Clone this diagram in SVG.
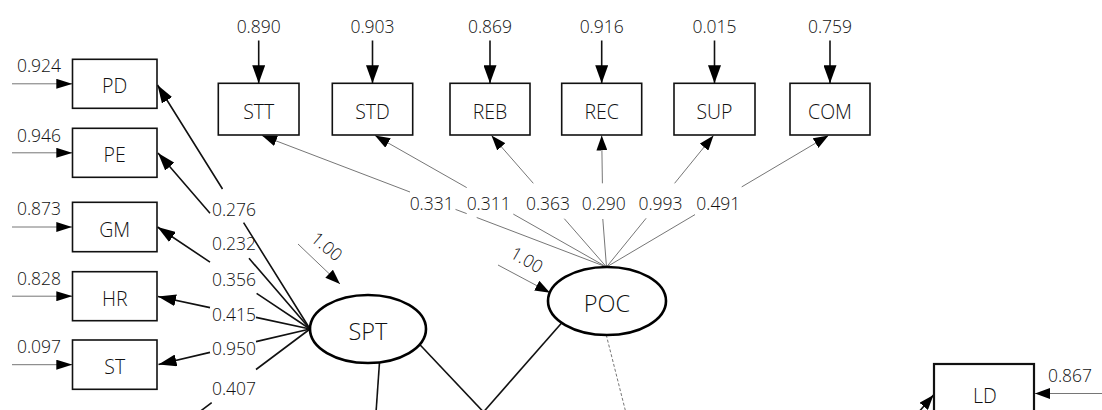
<svg xmlns="http://www.w3.org/2000/svg" width="1102" height="410" viewBox="0 0 1102 410">
<style>
text{font-family:"Open Sans","Noto Sans","Liberation Sans",sans-serif;font-weight:300;fill:#111;text-anchor:middle}
.n{font-size:17.5px}
.b{font-size:19.5px}
.e{font-size:23.5px}
.box{fill:#fff;stroke:#111;stroke-width:1.6}
.ell{fill:#fff;stroke:#000;stroke-width:2.6}
.thin{fill:none;stroke:#666;stroke-width:0.9}
.thick{fill:none;stroke:#111;stroke-width:1.6}
.dash{fill:none;stroke:#666;stroke-width:0.9;stroke-dasharray:3 2}
</style>
<defs>
<marker id="aBig" markerUnits="userSpaceOnUse" markerWidth="18" markerHeight="13" refX="18" refY="6.5" orient="auto"><path d="M0,0 L18,6.5 L0,13 z" fill="#000"/></marker>
<marker id="aLoad" markerUnits="userSpaceOnUse" markerWidth="18" markerHeight="12" refX="18" refY="6" orient="auto"><path d="M0,0 L18,6 L0,12 z" fill="#000"/></marker>
<marker id="aMed" markerUnits="userSpaceOnUse" markerWidth="15" markerHeight="11" refX="15" refY="5.5" orient="auto"><path d="M0,0 L15,5.5 L0,11 z" fill="#000"/></marker>
<marker id="aSm" markerUnits="userSpaceOnUse" markerWidth="16" markerHeight="10" refX="16" refY="5" orient="auto"><path d="M0,0 L16,5 L0,10 z" fill="#000"/></marker>
</defs>

<g id="connectors">
<line class="thin" x1="12" y1="83.8" x2="72.3" y2="83.8" marker-end="url(#aSm)"/>
<line class="thin" x1="12" y1="152.8" x2="72.3" y2="152.8" marker-end="url(#aSm)"/>
<line class="thin" x1="12" y1="227" x2="72.3" y2="227" marker-end="url(#aSm)"/>
<line class="thin" x1="12" y1="296.2" x2="72.3" y2="296.2" marker-end="url(#aSm)"/>
<line class="thin" x1="12" y1="364.7" x2="72.3" y2="364.7" marker-end="url(#aSm)"/>
<path class="thick" d="M310,329 L243.6,222.7 M222.5,189 L157.5,85" marker-end="url(#aLoad)"/>
<path class="thick" d="M310,329 L249,258.3 M210,213.2 L158,153" marker-end="url(#aLoad)"/>
<path class="thick" d="M310,329 L256.6,293.3 M210,262.1 L157.5,227" marker-end="url(#aLoad)"/>
<path class="thick" d="M310,329 L256,317.4 M210,307.6 L158,296.5" marker-end="url(#aLoad)"/>
<path class="thick" d="M310,329 L256,341.6 M210,352.4 L158.5,364.5" marker-end="url(#aLoad)"/>
<path class="thick" d="M310,329 L256,369.5 M211.7,402.7 L190,419"/>
<line class="thick" x1="258.7" y1="40.5" x2="258.7" y2="83.3" marker-end="url(#aBig)"/>
<line class="thick" x1="372.5" y1="40.5" x2="372.5" y2="83.3" marker-end="url(#aBig)"/>
<line class="thick" x1="490" y1="40.5" x2="490" y2="83.3" marker-end="url(#aBig)"/>
<line class="thick" x1="601.7" y1="40.5" x2="601.7" y2="83.3" marker-end="url(#aBig)"/>
<line class="thick" x1="714.5" y1="40.5" x2="714.5" y2="83.3" marker-end="url(#aBig)"/>
<line class="thick" x1="830" y1="40.5" x2="830" y2="83.3" marker-end="url(#aBig)"/>
<path class="thin" d="M606.5,267 L476.7,217.5 M466.7,213.6 L455.5,209.4 M410,192 L262,135.5" marker-end="url(#aMed)"/>
<path class="thin" d="M606.5,267 L513.3,214.1 M466.7,187.6 L375,135.5" marker-end="url(#aMed)"/>
<path class="thin" d="M606.5,267 L564.3,218.7 M533.3,183.3 L491.5,135.5" marker-end="url(#aMed)"/>
<path class="thin" d="M606.5,267 L602.8,219 M602.4,183.3 L601.7,135.5" marker-end="url(#aMed)"/>
<path class="thin" d="M606.5,267 L646.1,218.3 M674.6,183.3 L713.5,135.5" marker-end="url(#aMed)"/>
<path class="thin" d="M606.5,267 L695,214.6 M741.7,186.9 L828.5,135.5" marker-end="url(#aMed)"/>
<line class="thin" x1="298" y1="244" x2="340" y2="284" marker-end="url(#aMed)"/>
<line class="thin" x1="498" y1="265" x2="550" y2="292.7" marker-end="url(#aMed)"/>
<line class="thick" x1="380" y1="355" x2="375.5" y2="420"/>
<line class="thick" x1="415" y1="339.5" x2="483.5" y2="412"/>
<line class="thick" x1="566" y1="318" x2="483.5" y2="412"/>
<line class="dash" x1="605" y1="330" x2="626.5" y2="415"/>
<line class="thin" x1="1102" y1="393.5" x2="1035" y2="393.5" marker-end="url(#aMed)"/>
<line class="thick" x1="905" y1="428" x2="933.5" y2="395" marker-end="url(#aMed)"/>
</g>

<g id="SPT"><ellipse class="ell" cx="368" cy="329" rx="58" ry="34"/><text class="e" x="368" y="340">SPT</text></g>
<g id="POC"><ellipse class="ell" cx="607" cy="301" rx="59" ry="34"/><text class="e" x="607" y="312.3">POC</text></g>

<g id="PD"><rect class="box" x="72.5" y="59.3" width="84.5" height="49"/><text class="b" x="114.7" y="93.3">PD</text></g>
<g id="PE"><rect class="box" x="72.5" y="128.3" width="84.5" height="49"/><text class="b" x="114.7" y="162.3">PE</text></g>
<g id="GM"><rect class="box" x="72.5" y="202.3" width="84.5" height="49.4"/><text class="b" x="114.7" y="236.5">GM</text></g>
<g id="HR"><rect class="box" x="72.5" y="271.7" width="84.5" height="49"/><text class="b" x="114.7" y="305.7">HR</text></g>
<g id="ST"><rect class="box" x="72.5" y="340" width="84.5" height="49.3"/><text class="b" x="114.7" y="374.2">ST</text></g>

<g id="STT"><rect class="box" x="218.3" y="83.3" width="80.7" height="51.7"/><text class="b" x="258.7" y="119">STT</text></g>
<g id="STD"><rect class="box" x="332.3" y="83.3" width="80.4" height="51.7"/><text class="b" x="372.5" y="119">STD</text></g>
<g id="REB"><rect class="box" x="450" y="83.3" width="80" height="51.7"/><text class="b" x="490" y="119">REB</text></g>
<g id="REC"><rect class="box" x="561.7" y="83.3" width="80" height="51.7"/><text class="b" x="601.7" y="119">REC</text></g>
<g id="SUP"><rect class="box" x="674" y="83.3" width="81" height="51.7"/><text class="b" x="714.5" y="119">SUP</text></g>
<g id="COM"><rect class="box" x="790" y="83.3" width="80" height="51.7"/><text class="b" x="830" y="119">COM</text></g>

<g id="LD"><rect class="box" x="934" y="364" width="100" height="52" style="stroke-width:2.2"/><text class="b" x="985" y="403">LD</text></g>

<g id="labels">
<text class="n" x="39" y="71.7">0.924</text>
<text class="n" x="39" y="141.7">0.946</text>
<text class="n" x="39" y="215">0.873</text>
<text class="n" x="39" y="285">0.828</text>
<text class="n" x="39" y="353.3">0.097</text>
<text class="n" x="234" y="215.7">0.276</text>
<text class="n" x="234" y="250">0.232</text>
<text class="n" x="234" y="286">0.356</text>
<text class="n" x="234" y="320.5">0.415</text>
<text class="n" x="234" y="355">0.950</text>
<text class="n" x="234" y="395">0.407</text>
<text class="n" x="258.7" y="33.3">0.890</text>
<text class="n" x="372.5" y="33.3">0.903</text>
<text class="n" x="490" y="33.3">0.869</text>
<text class="n" x="601.7" y="33.3">0.916</text>
<text class="n" x="714.5" y="33.3">0.015</text>
<text class="n" x="830" y="33.3">0.759</text>
<text class="n" x="431.7" y="210">0.331</text>
<text class="n" x="488.7" y="210">0.311</text>
<text class="n" x="548" y="210">0.363</text>
<text class="n" x="603.8" y="210">0.290</text>
<text class="n" x="660.5" y="210">0.993</text>
<text class="n" x="718.3" y="210">0.491</text>
<text class="n" x="1070" y="381.7">0.867</text>
<text class="n" transform="translate(326.7,246.7) rotate(40)" x="0" y="6">1.00</text>
<text class="n" transform="translate(526.7,260) rotate(30)" x="0" y="6">1.00</text>
</g>
</svg>
